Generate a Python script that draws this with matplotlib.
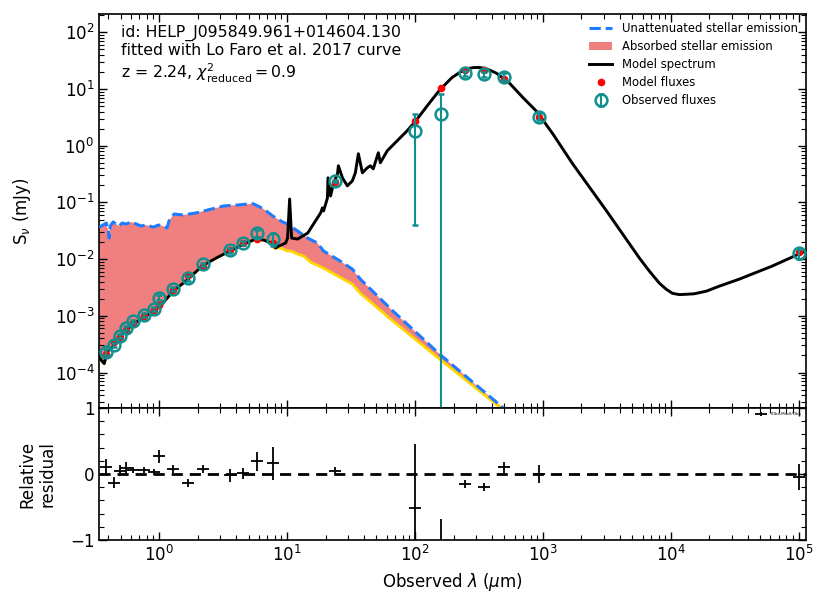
import numpy as np
import matplotlib.pyplot as plt
from matplotlib.ticker import MultipleLocator

# Observed photometry (um, mJy)
obs_wave = [0.386, 0.444, 0.491, 0.553, 0.631, 0.769, 0.91, 0.99, 1.29, 1.67, 2.19,
            3.59, 4.51, 5.80, 7.77, 23.9, 100.0, 160.0, 246.0, 346.0, 495.0, 933.0, 1.0e5]
obs_flux = [2.35e-4, 3.1e-4, 4.5e-4, 6.1e-4, 8.0e-4, 1.05e-3, 1.32e-3, 2.1e-3, 3.0e-3,
            4.6e-3, 8.1e-3, 1.44e-2, 1.92e-2, 2.85e-2, 2.3e-2, 0.24, 1.84, 3.68, 18.8,
            18.1, 16.6, 3.26, 0.0126]
obs_err = [2.8e-5, 2.5e-5, 3.6e-5, 5.5e-5, 6e-5, 8e-5, 1e-4, 2.1e-4, 2.5e-4, 4e-4, 6e-4,
           1.4e-3, 1.5e-3, 4.3e-3, 5.8e-3, 0.012, 1.8, 4.4, 1.8, 2.0, 2.2, 0.46, 0.0025]
model_flux = [2.1e-4, 3.5e-4, 4.3e-4, 5.6e-4, 7.5e-4, 9.9e-4, 1.28e-3, 1.53e-3, 2.8e-3,
              5.2e-3, 7.5e-3, 1.47e-2, 1.92e-2, 2.3e-2, 1.93e-2, 0.228, 2.77, 10.6, 21.6,
              21.7, 14.9, 3.26, 0.0132]

# Relative residuals (Obs-Mod)/Obs and their errors
resid = [0.10, -0.13, 0.05, 0.09, 0.06, 0.06, 0.03, 0.27, 0.07, -0.14, 0.07, -0.02, 0.01,
         0.19, 0.16, 0.05, -0.51, -1.88, -0.15, -0.20, 0.10, 0.0, -0.05]
resid_err = [0.12, 0.08, 0.08, 0.09, 0.05, 0.05, 0.05, 0.10, 0.06, 0.06, 0.06, 0.10, 0.08,
             0.15, 0.25, 0.05, 0.96, 1.2, 0.06, 0.06, 0.08, 0.14, 0.2]

# Model spectrum
spec_wave = [0.341, 0.360, 0.373, 0.394, 0.438, 0.488, 0.553, 0.638, 0.764, 0.898, 1.036,
             1.285, 1.652, 2.163, 2.78, 3.57, 4.59, 5.69, 6.57, 7.59, 8.15, 8.60, 9.75,
             10.1, 10.48, 10.86, 12.1, 14.5, 16.1, 18.3, 18.9, 19.3, 20.7, 20.9, 21.9,
             23.1, 24.8, 25.2, 27.1, 29.6, 32.4, 34.2, 36.1, 38.8, 42.4, 44.8, 47.2, 51.7,
             53.6, 60.7, 70.1, 86.9, 100.4, 126.8, 157.1, 195.0, 237.0, 265.0, 294.0,
             322.0, 352.0, 390.0, 437.0, 551.0, 697.0, 895.0, 1192.0, 1706.0, 3140.0,
             5680.0, 6790.0, 8130.0, 9200.0, 10260.0, 11620.0, 13180.0, 15200.0, 18880.0,
             23800.0, 34120.0, 61660.0, 100000.0, 113500.0]
spec_flux = [1.84e-4, 1.57e-4, 1.44e-4, 2.35e-4, 2.88e-4, 4.16e-4, 5.53e-4, 7.36e-4,
             9.40e-4, 1.20e-3, 1.53e-3, 2.72e-3, 4.25e-3, 7.52e-3, 1.04e-2, 1.39e-2,
             1.84e-2, 2.26e-2, 2.17e-2, 1.92e-2, 1.57e-2, 1.70e-2, 1.92e-2, 2.35e-2,
             0.115, 2.35e-2, 2.26e-2, 2.88e-2, 4.16e-2, 6.52e-2, 8.0e-2, 7.08e-2, 0.120,
             0.272, 0.130, 0.221, 0.319, 0.443, 0.272, 0.196, 0.240, 0.333, 0.722, 0.333,
             0.408, 0.443, 0.392, 0.752, 0.500, 0.815, 1.13, 1.84, 2.66, 5.32, 9.80, 16.0,
             21.3, 23.2, 24.0, 23.9, 23.1, 21.2, 18.8, 12.5, 7.08, 4.00, 1.63, 0.480,
             7.08e-2, 1.04e-2, 6.14e-3, 3.76e-3, 2.94e-3, 2.50e-3, 2.37e-3, 2.40e-3,
             2.45e-3, 2.72e-3, 3.33e-3, 4.43e-3, 7.52e-3, 1.23e-2, 1.39e-2]

# Unattenuated stellar emission
unatt_wave = [0.341, 0.366, 0.387, 0.401, 0.408, 0.415, 0.438, 0.488, 0.515, 0.553, 0.605,
              0.662, 0.724, 0.792, 0.898, 1.0, 1.074, 1.154, 1.196, 1.240, 1.309, 1.538,
              1.941, 2.586, 3.21, 4.12, 5.40, 5.90, 6.57, 7.73, 8.45, 9.24, 10.1, 12.1,
              14.5, 17.3, 19.3, 26.1, 32.4, 37.4, 67.6, 157.0, 510.0, 570.0]
unatt_flux = [3.68e-2, 4.0e-2, 4.34e-2, 3.13e-2, 2.35e-2, 3.84e-2, 4.52e-2, 3.84e-2,
              4.34e-2, 4.16e-2, 4.52e-2, 4.16e-2, 3.84e-2, 4.0e-2, 3.68e-2, 4.0e-2,
              3.84e-2, 3.54e-2, 4.71e-2, 5.32e-2, 6.25e-2, 6.01e-2, 6.52e-2, 7.67e-2,
              8.67e-2, 9.03e-2, 9.52e-2, 8.67e-2, 7.67e-2, 5.77e-2, 5.10e-2, 4.52e-2,
              4.16e-2, 3.13e-2, 2.35e-2, 1.92e-2, 1.39e-2, 9.22e-3, 6.66e-3, 4.43e-3,
              1.20e-3, 2.08e-4, 2.20e-5, 1.70e-5]

# Attenuated stellar emission
att_wave = [0.341, 0.360, 0.373, 0.394, 0.438, 0.488, 0.553, 0.638, 0.764, 0.898, 1.036,
            1.285, 1.652, 2.163, 2.78, 3.57, 4.59, 5.69, 6.57, 7.59, 7.87, 8.92, 10.1,
            10.67, 12.1, 13.5, 15.3, 19.3, 32.4, 37.4, 67.6, 157.0, 495.0, 555.0]
att_flux = [1.84e-4, 1.57e-4, 1.44e-4, 2.35e-4, 2.88e-4, 4.16e-4, 5.53e-4, 7.36e-4,
            9.40e-4, 1.20e-3, 1.53e-3, 2.72e-3, 4.25e-3, 7.52e-3, 1.04e-2, 1.39e-2,
            1.84e-2, 2.26e-2, 2.17e-2, 1.92e-2, 1.57e-2, 1.57e-2, 1.39e-2, 1.39e-2,
            1.23e-2, 1.13e-2, 8.85e-3, 6.93e-3, 3.61e-3, 2.50e-3, 8.0e-4, 1.70e-4,
            2.15e-5, 1.65e-5]

teal = '#108f8f'

fig = plt.figure(figsize=(8.3, 6.13), dpi=100)
ax1 = fig.add_axes([0.1196, 0.3344, 0.8511, 0.6427])
ax2 = fig.add_axes([0.1196, 0.1191, 0.8511, 0.2153], sharex=ax1)

# absorbed stellar emission as polygon between the two stellar curves
poly_x = np.concatenate([unatt_wave, att_wave[::-1]])
poly_y = np.concatenate([unatt_flux, att_flux[::-1]])
ax1.fill(poly_x, poly_y, color='lightcoral', lw=0, label='Absorbed stellar emission', zorder=1)
ax1.plot(att_wave, att_flux, color='gold', lw=2.0, zorder=2)
ax1.plot(unatt_wave, unatt_flux, color='#1f7bff', lw=2.2, ls='--',
         label='Unattenuated stellar emission', zorder=3)
ax1.plot(spec_wave, spec_flux, color='k', lw=2.1, label='Model spectrum', zorder=4)
ax1.plot(obs_wave, model_flux, 'o', color='red', ms=5.5, mec='none', label='Model fluxes', zorder=5)
ax1.errorbar(obs_wave, obs_flux, yerr=obs_err, fmt='o', mfc='none', mec=teal, ecolor=teal,
             ms=8.5, mew=1.8, elinewidth=1.5, capsize=2, capthick=1.5,
             label='Observed fluxes', zorder=6)

ax1.set_xscale('log')
ax1.set_yscale('log')
ax1.set_xlim(0.341, 1.13e5)
ax1.set_ylim(2.37e-5, 210)
ax1.set_ylabel(r'S$_\nu$ (mJy)', fontsize=12)
ax1.yaxis.set_label_coords(-0.094, 0.5)
ax1.tick_params(labelbottom=False)

h, l = ax1.get_legend_handles_labels()
order = [l.index(n) for n in ['Unattenuated stellar emission', 'Absorbed stellar emission',
                              'Model spectrum', 'Model fluxes', 'Observed fluxes']]
ax1.legend([h[i] for i in order], [l[i] for i in order], loc='upper right', fontsize=8.4,
           frameon=False, borderaxespad=0.3, handlelength=2.0, labelspacing=0.42)

ax1.text(0.031, 0.972, 'id: HELP_J095849.961+014604.130\nfitted with Lo Faro et al. 2017 curve',
         transform=ax1.transAxes, fontsize=11.3, va='top', ha='left', linespacing=1.15)
ax1.text(0.031, 0.878, r'z = 2.24, $\chi^2_\mathrm{reduced} = 0.9$',
         transform=ax1.transAxes, fontsize=11.3, va='top', ha='left')

# residual panel
ax2.errorbar(obs_wave, resid, yerr=resid_err, fmt='_', color='k', ms=8, mew=1.3,
             elinewidth=1.3, capsize=0, label='(Obs-Mod)/Obs')
ax2.axhline(0, color='k', ls='--', lw=2, dashes=(4, 2.5))
ax2.set_ylim(-1, 1)
ax2.yaxis.set_major_locator(MultipleLocator(1))
ax2.yaxis.set_minor_locator(MultipleLocator(0.2))
ax2.set_xlabel(r'Observed $\lambda$ ($\mu$m)', fontsize=12)
ax2.set_ylabel('Relative\nresidual', fontsize=12)
ax2.yaxis.set_label_coords(-0.06, 0.5)
ax2.legend(loc='upper right', fontsize=3, frameon=False, handlelength=3, borderaxespad=0.6)

for ax in (ax1, ax2):
    ax.tick_params(which='both', direction='in', top=True, right=True, labelsize=12)
    ax.tick_params(which='major', length=6, width=1)
    ax.tick_params(which='minor', length=3.5, width=0.8)
    for s in ax.spines.values():
        s.set_linewidth(1.2)

fig.savefig('out.png', dpi=100)
